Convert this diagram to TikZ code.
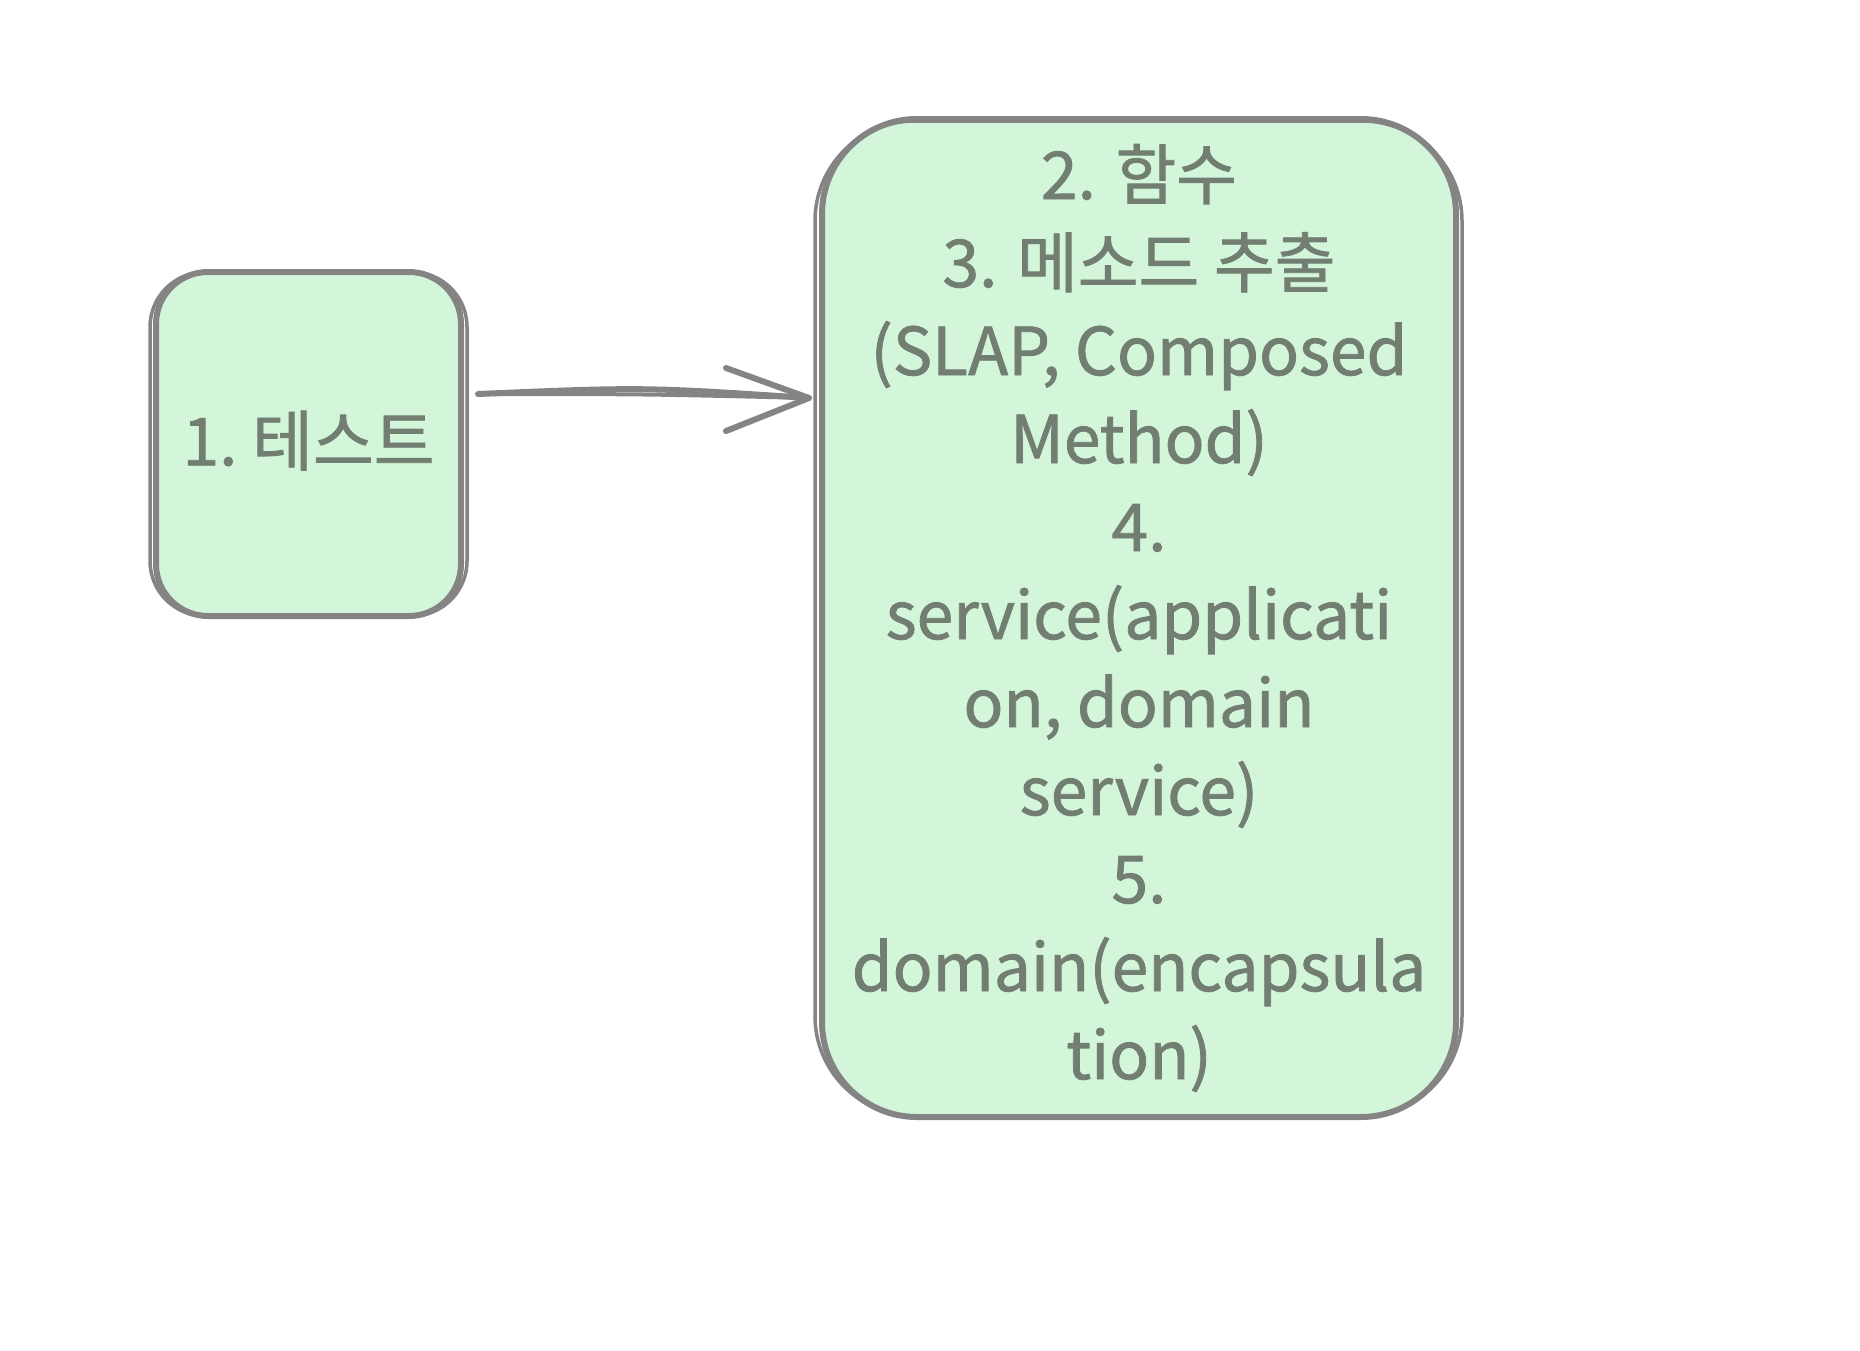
\documentclass[tikz,border=0pt]{standalone}
\usepackage{fontspec}
\setmainfont{Noto Sans CJK KR}
\newfontfamily\hfont{Noto Sans CJK KR}[FakeBold=1.2]
\usetikzlibrary{arrows.meta,calc}
\definecolor{strk}{HTML}{848484}
\definecolor{fillg}{HTML}{D3F5DA}
\definecolor{txt}{HTML}{717E71}
\begin{document}
\begin{tikzpicture}[x=1pt,y=-1pt,
  box/.style={draw=strk, line width=6pt, fill=fillg, rounded corners=#1, inner sep=0pt,
    text=txt, align=center, font=\hfont\fontsize{66}{88}\selectfont},
  sketch/.style={draw=strk, line width=3.5pt, rounded corners=#1},
  link/.style={draw=strk, line width=6pt, line cap=round, line join=round}]
\useasboundingbox (0,0) rectangle (1860,1350);
\node[box=52pt, minimum width=305pt, minimum height=344pt, anchor=north west] (t) at (153,269)
  {\raisebox{12pt}{1.\ 테스트}};
\node[box=95pt, minimum width=634pt, minimum height=998pt, anchor=north west] (r) at (819,116)
  {2. 함수\\3. 메소드 추출\\(SLAP, Composed\\Method)\\4.\\service(applicati\\on, domain\\service)\\5.\\domain(encapsula\\tion)};
% sketchy second strokes
\draw[sketch=55pt] ($(t.north west)+(-3,3)$) rectangle ($(t.south east)+(3,-3)$);
\draw[sketch=100pt] ($(r.north west)+(-4,5)$) rectangle ($(r.south east)+(3,-4)$);
% arrow
\coordinate (a1) at ($(t.east)+(14,-50)$);
\coordinate (a2) at ($(r.west)+(-10,-220)$);
\draw[link] (a1) .. controls ($(a1)!0.5!(a2)+(0,-9)$) .. (a2);
\draw[link, line width=4pt] (a1) .. controls ($(a1)!0.5!(a2)+(0,-2)$) .. (a2);
\draw[link] ($(a2)+(-83,-30)$) -- (a2) -- ($(a2)+(-83,33)$);
\end{tikzpicture}
\end{document}
